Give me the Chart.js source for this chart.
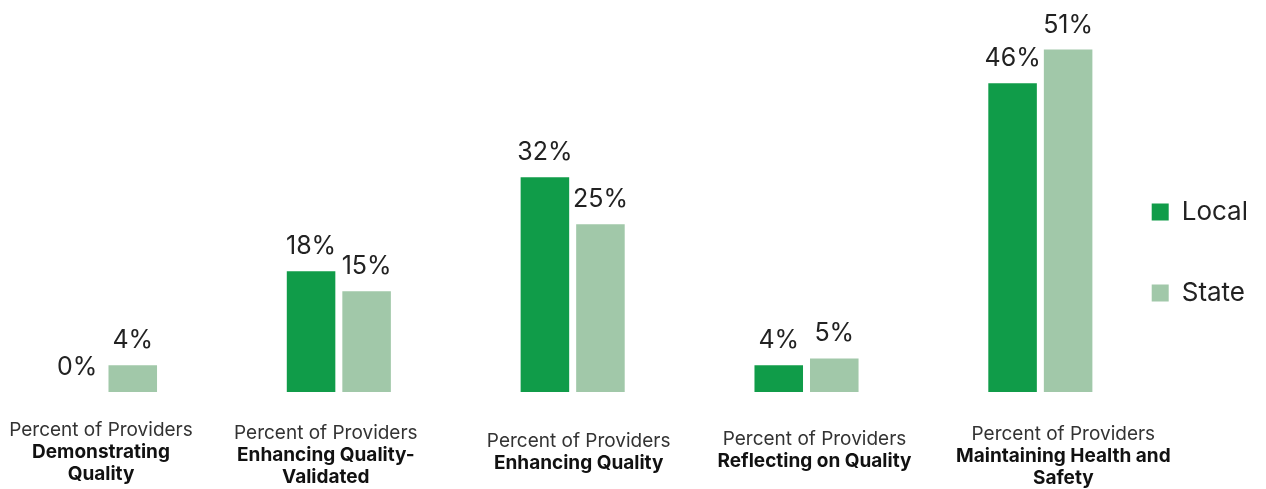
<!DOCTYPE html>
<html>
<head>
<meta charset="utf-8">
<title>Providers by Quality Level</title>
<script src="https://cdn.jsdelivr.net/npm/chart.js@4.4.1/dist/chart.umd.min.js"></script>
<style>
  html, body { margin: 0; padding: 0; background: #fff; }
  .chart-wrap { width: 1266px; height: 489px; position: relative; }
</style>
</head>
<body>
<div class="chart-wrap">
  <canvas id="qualityChart"></canvas>
</div>
<script>
// categories (bold part of each x label, one entry per line)
var categories = [
  ['Demonstrating', 'Quality'],
  ['Enhancing Quality-', 'Validated'],
  ['Enhancing Quality'],
  ['Reflecting on Quality'],
  ['Maintaining Health and', 'Safety']
];
var labelPrefix = 'Percent of Providers';
var seriesNames = ['Local', 'State'];
var localValues = [0, 18, 32, 4, 46];
var stateValues = [4, 15, 25, 5, 51];

// small per-label nudges for the x labels [dx, dy]
var labelShift = [[-4, -5], [-13, -2], [6, 6], [8, 4], [23, -1]];

var FONT = 'Inter, "Open Sans", sans-serif';

// value labels above every bar
var valueLabels = {
  id: 'valueLabels',
  afterDatasetsDraw: function(chart) {
    var ctx = chart.ctx;
    ctx.save();
    ctx.font = '25px ' + FONT;
    ctx.fillStyle = '#222';
    ctx.textAlign = 'center';
    ctx.textBaseline = 'alphabetic';
    chart.data.datasets.forEach(function(ds, i) {
      chart.getDatasetMeta(i).data.forEach(function(bar, j) {
        ctx.fillText(ds.data[j].y + '%', bar.x, bar.y - 17);
      });
    });
    ctx.restore();
  }
};

// two-style category labels under the bars
var categoryLabels = {
  id: 'categoryLabels',
  afterDraw: function(chart) {
    var ctx = chart.ctx;
    var xs = chart.scales.x;
    ctx.save();
    ctx.textAlign = 'center';
    ctx.textBaseline = 'middle';
    categories.forEach(function(lines, i) {
      var x = xs.getPixelForValue(i) + labelShift[i][0];
      var y = 435 + labelShift[i][1];
      ctx.font = '400 19px ' + FONT;
      ctx.fillStyle = '#333';
      ctx.fillText(labelPrefix, x, y);
      ctx.font = '700 19px ' + FONT;
      ctx.fillStyle = '#111';
      lines.forEach(function(line, k) {
        ctx.fillText(line, x, y + 22 * (k + 1));
      });
    });
    ctx.restore();
  }
};

var ctx = document.getElementById('qualityChart').getContext('2d');
var qualityChart = new Chart(ctx, {
  type: 'bar',
  data: {
    datasets: [{
      label: seriesNames[0],
      data: localValues.map(function(v, i) { return { x: i, y: v }; }),
      backgroundColor: '#109c49'
    }, {
      label: seriesNames[1],
      data: stateValues.map(function(v, i) { return { x: i, y: v }; }),
      backgroundColor: '#a1c8a9'
    }]
  },
  options: {
    responsive: true,
    maintainAspectRatio: false,
    animation: false,
    layout: {
      padding: { top: 16, right: 8, left: 0, bottom: 0 }
    },
    datasets: {
      bar: {
        categoryPercentage: 0.475,
        barPercentage: 0.874,
        clip: false
      }
    },
    scales: {
      x: {
        type: 'linear',
        offset: false,
        min: -0.449,
        max: 4.241,
        grid: { display: false, offset: false },
        border: { display: false },
        ticks: { display: false },
        afterBuildTicks: function(scale) {
          scale.ticks = categories.map(function(c, i) { return { value: i }; });
        },
        afterFit: function(scale) {
          scale.height = 97;
        }
      },
      y: {
        display: false,
        min: 0,
        max: 56
      }
    },
    plugins: {
      legend: {
        position: 'right',
        labels: {
          boxWidth: 17,
          boxHeight: 17,
          padding: 55,
          color: '#222',
          font: { family: FONT, size: 26 }
        }
      },
      tooltip: { enabled: false }
    }
  },
  plugins: [valueLabels, categoryLabels]
});
</script>
</body>
</html>
